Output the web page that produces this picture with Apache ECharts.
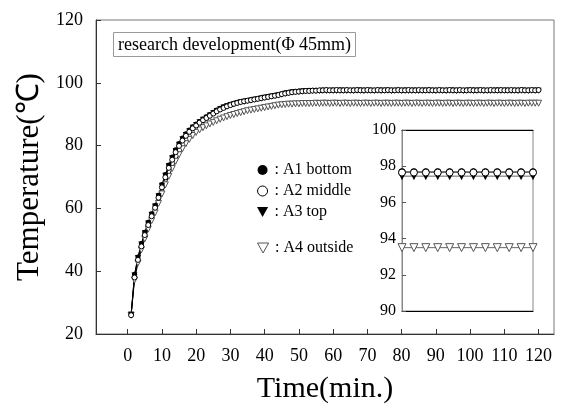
<!DOCTYPE html>
<html>
<head>
<meta charset="utf-8">
<script src="https://cdn.jsdelivr.net/npm/echarts@6/dist/echarts.min.js"></script>
<style>
  html, body { margin: 0; padding: 0; background: #fff; }
  #chart { width: 563px; height: 410px; }
</style>
</head>
<body>
<div id="chart"></div>
<script>
const minutes = [
  1, 2, 3, 4, 5, 6, 7, 8, 9, 10, 11, 12, 13, 14, 15, 16, 17, 18, 19, 20,
  21, 22, 23, 24, 25, 26, 27, 28, 29, 30, 31, 32, 33, 34, 35, 36, 37, 38, 39, 40,
  41, 42, 43, 44, 45, 46, 47, 48, 49, 50, 51, 52, 53, 54, 55, 56, 57, 58, 59, 60,
  61, 62, 63, 64, 65, 66, 67, 68, 69, 70, 71, 72, 73, 74, 75, 76, 77, 78, 79, 80,
  81, 82, 83, 84, 85, 86, 87, 88, 89, 90, 91, 92, 93, 94, 95, 96, 97, 98, 99, 100,
  101, 102, 103, 104, 105, 106, 107, 108, 109, 110, 111, 112, 113, 114, 115, 116, 117, 118, 119, 120
];

// A1 bottom
const a1Bottom = [
  26.2, 39.0, 44.5, 48.8, 52.4, 55.6, 58.3, 60.9, 64.2, 67.6,
  70.8, 73.8, 76.4, 78.7, 80.7, 82.4, 83.8, 85.0, 86.0, 86.9,
  87.7, 88.5, 89.2, 89.9, 90.6, 91.3, 91.9, 92.4, 92.8, 93.2,
  93.5, 93.8, 94.0, 94.2, 94.4, 94.6, 94.8, 95.0, 95.2, 95.4,
  95.6, 95.8, 96.0, 96.3, 96.5, 96.8, 97.0, 97.2, 97.3, 97.4,
  97.5, 97.5, 97.6, 97.6, 97.6, 97.6, 97.7, 97.7, 97.6, 97.7,
  97.7, 97.8, 97.7, 97.7, 97.6, 97.7, 97.7, 97.8, 97.7, 97.7,
  97.7, 97.6, 97.7, 97.8, 97.7, 97.7, 97.7, 97.6, 97.7, 97.7,
  97.8, 97.7, 97.7, 97.7, 97.6, 97.7, 97.7, 97.8, 97.7, 97.7,
  97.7, 97.6, 97.7, 97.7, 97.8, 97.7, 97.7, 97.6, 97.7, 97.7,
  97.8, 97.7, 97.7, 97.7, 97.6, 97.7, 97.7, 97.8, 97.7, 97.7,
  97.7, 97.6, 97.7, 97.7, 97.8, 97.7, 97.7, 97.7, 97.7, 97.7
];

// A2 middle
const a2Middle = [
  26.0, 38.0, 43.6, 47.9, 51.5, 54.7, 57.5, 60.2, 63.4, 66.7,
  69.9, 72.9, 75.5, 77.9, 79.9, 81.6, 83.1, 84.4, 85.5, 86.4,
  87.3, 88.1, 88.8, 89.5, 90.2, 90.9, 91.5, 92.0, 92.5, 92.9,
  93.3, 93.6, 93.9, 94.1, 94.3, 94.5, 94.7, 94.9, 95.1, 95.3,
  95.5, 95.7, 95.9, 96.1, 96.4, 96.6, 96.8, 97.0, 97.1, 97.2,
  97.3, 97.4, 97.4, 97.5, 97.5, 97.6, 97.6, 97.7, 97.6, 97.6,
  97.7, 97.6, 97.6, 97.7, 97.6, 97.6, 97.7, 97.6, 97.6, 97.7,
  97.6, 97.6, 97.7, 97.6, 97.6, 97.7, 97.6, 97.6, 97.7, 97.6,
  97.6, 97.7, 97.6, 97.6, 97.7, 97.6, 97.6, 97.7, 97.6, 97.6,
  97.7, 97.6, 97.6, 97.7, 97.6, 97.6, 97.7, 97.6, 97.6, 97.7,
  97.6, 97.6, 97.7, 97.6, 97.6, 97.7, 97.6, 97.6, 97.7, 97.6,
  97.6, 97.7, 97.6, 97.6, 97.7, 97.6, 97.6, 97.7, 97.6, 97.7
];

// A3 top
const a3Top = [
  26.1, 38.6, 44.2, 48.5, 52.1, 55.2, 58.0, 60.6, 63.9, 67.2,
  70.4, 73.4, 76.0, 78.3, 80.3, 82.0, 83.4, 84.6, 85.7, 86.6,
  87.4, 88.2, 88.9, 89.6, 90.3, 91.0, 91.6, 92.1, 92.5, 92.9,
  93.2, 93.5, 93.8, 94.0, 94.2, 94.4, 94.6, 94.8, 95.0, 95.2,
  95.4, 95.6, 95.8, 96.0, 96.2, 96.5, 96.7, 96.9, 97.0, 97.1,
  97.2, 97.3, 97.3, 97.4, 97.4, 97.4, 97.5, 97.4, 97.5, 97.5,
  97.4, 97.5, 97.5, 97.4, 97.5, 97.4, 97.5, 97.5, 97.4, 97.5,
  97.5, 97.4, 97.5, 97.4, 97.5, 97.5, 97.4, 97.5, 97.5, 97.4,
  97.5, 97.4, 97.5, 97.5, 97.4, 97.5, 97.5, 97.4, 97.5, 97.4,
  97.5, 97.5, 97.4, 97.5, 97.5, 97.4, 97.5, 97.4, 97.5, 97.5,
  97.4, 97.5, 97.5, 97.4, 97.5, 97.4, 97.5, 97.5, 97.4, 97.5,
  97.5, 97.4, 97.5, 97.4, 97.5, 97.5, 97.4, 97.5, 97.5, 97.5
];

// A4 outside
const a4Outside = [
  26.0, 37.2, 42.6, 46.8, 50.3, 53.4, 56.1, 58.6, 61.6, 64.6,
  67.5, 70.2, 72.7, 75.0, 77.1, 79.0, 80.6, 82.0, 83.2, 84.2,
  85.0, 85.7, 86.3, 86.9, 87.4, 87.9, 88.4, 88.8, 89.2, 89.6,
  89.9, 90.2, 90.5, 90.8, 91.1, 91.3, 91.5, 91.7, 91.9, 92.1,
  92.3, 92.5, 92.7, 92.9, 93.0, 93.1, 93.2, 93.2, 93.3, 93.3,
  93.4, 93.4, 93.4, 93.4, 93.5, 93.4, 93.5, 93.5, 93.4, 93.5,
  93.5, 93.4, 93.5, 93.5, 93.4, 93.5, 93.5, 93.4, 93.5, 93.5,
  93.4, 93.5, 93.5, 93.4, 93.5, 93.5, 93.4, 93.5, 93.5, 93.4,
  93.5, 93.5, 93.4, 93.5, 93.5, 93.4, 93.5, 93.5, 93.4, 93.5,
  93.5, 93.4, 93.5, 93.5, 93.4, 93.5, 93.5, 93.4, 93.5, 93.5,
  93.4, 93.5, 93.5, 93.4, 93.5, 93.5, 93.4, 93.5, 93.5, 93.4,
  93.5, 93.5, 93.4, 93.5, 93.5, 93.4, 93.5, 93.5, 93.5, 93.5
];

const timeTicks = [0, 10, 20, 30, 40, 50, 60, 70, 80, 90, 100, 110, 120];

// inset (zoom of last minutes)
const insetMinutes = [109, 110, 111, 112, 113, 114, 115, 116, 117, 118, 119, 120];
const insetA1 = [97.7, 97.7, 97.7, 97.7, 97.7, 97.7, 97.7, 97.7, 97.7, 97.7, 97.7, 97.7];
const insetA2 = [97.65, 97.65, 97.65, 97.65, 97.65, 97.65, 97.65, 97.65, 97.65, 97.65, 97.65, 97.65];
const insetA3 = [97.45, 97.45, 97.45, 97.45, 97.45, 97.45, 97.45, 97.45, 97.45, 97.45, 97.45, 97.45];
const insetA4 = [93.5, 93.5, 93.5, 93.5, 93.5, 93.5, 93.5, 93.5, 93.5, 93.5, 93.5, 93.5];

const serif = "Liberation Serif";
const downTri = "path://M0,0L10,0L5,9Z";

const pair = (xs, ys) => xs.map((x, i) => [x, ys[i]]);

const styles = {
  "A1 bottom": { symbol: "circle", item: { color: "#000" } },
  "A2 middle": { symbol: "circle", item: { color: "#fff", borderColor: "#000", borderWidth: 1 } },
  "A3 top": { symbol: downTri, item: { color: "#000" } },
  "A4 outside": { symbol: downTri, item: { color: "#fff", borderColor: "#555", borderWidth: 1 } },
};

const mainData = {
  "A1 bottom": a1Bottom,
  "A2 middle": a2Middle,
  "A3 top": a3Top,
  "A4 outside": a4Outside,
};
const insetData = {
  "A1 bottom": insetA1,
  "A2 middle": insetA2,
  "A3 top": insetA3,
  "A4 outside": insetA4,
};

const drawOrder = ["A4 outside", "A3 top", "A1 bottom", "A2 middle"];

const series = [];
drawOrder.forEach((name) => {
  const st = styles[name];
  series.push({
    name,
    type: "line",
    xAxisIndex: 0,
    yAxisIndex: 0,
    data: pair(minutes, mainData[name]),
    symbol: st.symbol,
    symbolSize: name.startsWith("A3") || name.startsWith("A4") ? [6, 6] : 5,
    lineStyle: { color: "#000", width: 1 },
    itemStyle: st.item,
    animation: false,
    z: 3,
  });
});
drawOrder.forEach((name) => {
  const st = styles[name];
  series.push({
    name,
    type: "line",
    xAxisIndex: 1,
    yAxisIndex: 1,
    data: pair(insetMinutes, insetData[name]),
    symbol: st.symbol,
    symbolSize: name.startsWith("A3") || name.startsWith("A4") ? [8, 8] : 7,
    lineStyle: { color: "#666", width: 1 },
    itemStyle: st.item,
    animation: false,
    z: 6,
  });
});

const legendItem = (name) => ({
  name,
  icon: styles[name].symbol,
  itemStyle: styles[name].item,
});

const chart = echarts.init(document.getElementById("chart"));
chart.setOption({
  backgroundColor: "#fff",
  animation: false,
  title: {
    text: "research development(Φ 45mm)",
    left: 113,
    top: 32,
    padding: [4, 5, 3, 5],
    borderColor: "#999",
    borderWidth: 1,
    textStyle: { fontFamily: serif, fontSize: 18, fontWeight: "normal", color: "#000" },
  },
  legend: [
    {
      data: [legendItem("A1 bottom"), legendItem("A2 middle"), legendItem("A3 top")],
      orient: "vertical",
      left: 252,
      top: 157,
      itemGap: 5,
      itemWidth: 14,
      itemHeight: 10,
      formatter: (n) => ": " + n,
      textStyle: { fontFamily: serif, fontSize: 16, color: "#000" },
      selectedMode: false,
    },
    {
      data: [legendItem("A4 outside")],
      orient: "vertical",
      left: 252,
      top: 235,
      itemWidth: 14,
      itemHeight: 10,
      formatter: (n) => ": " + n,
      textStyle: { fontFamily: serif, fontSize: 16, color: "#000" },
      selectedMode: false,
    },
  ],
  grid: [
    {
      left: 96, right: 9, top: 20, bottom: 76,
      show: true, borderColor: "#777", borderWidth: 1,
      outerBoundsMode: "none",
    },
    {
      left: 402, right: 30, top: 130, bottom: 99,
      show: true, backgroundColor: "#fff", borderColor: "#888", borderWidth: 1,
      outerBoundsMode: "none", z: 5,
    },
  ],
  xAxis: [
    {
      gridIndex: 0,
      type: "value",
      min: -9.25,
      max: 124.5,
      name: "Time(min.)",
      nameLocation: "middle",
      nameGap: 40,
      nameTextStyle: { fontFamily: serif, fontSize: 30, color: "#000" },
      splitLine: { show: false },
      axisLine: { onZero: false, lineStyle: { color: "#333", width: 1 } },
      axisTick: { inside: true, length: 5, customValues: timeTicks, lineStyle: { color: "#333" } },
      axisLabel: {
        customValues: timeTicks,
        margin: 13,
        fontFamily: serif, fontSize: 18, color: "#000",
      },
    },
    {
      gridIndex: 1,
      type: "value",
      min: 109,
      max: 120,
      axisLine: { show: true, onZero: false, lineStyle: { color: "#000" } },
      axisTick: { show: false },
      axisLabel: { show: false },
      splitLine: { show: false },
      z: 5,
    },
    {
      gridIndex: 1,
      type: "value",
      position: "top",
      min: 109,
      max: 120,
      axisLine: { show: true, onZero: false, lineStyle: { color: "#000" } },
      axisTick: { show: false },
      axisLabel: { show: false },
      splitLine: { show: false },
      z: 5,
    },
  ],
  yAxis: [
    {
      gridIndex: 0,
      type: "value",
      min: 20,
      max: 120,
      interval: 20,
      name: "Temperature(℃)",
      nameLocation: "middle",
      nameGap: 46,
      nameTextStyle: { fontFamily: serif, fontSize: 31, color: "#000" },
      splitLine: { show: false },
      axisLine: { show: true, onZero: false, lineStyle: { color: "#333", width: 1 } },
      axisTick: { inside: true, length: 5, lineStyle: { color: "#333" } },
      axisLabel: { margin: 13, fontFamily: serif, fontSize: 18, color: "#000" },
    },
    {
      gridIndex: 1,
      type: "value",
      min: 90,
      max: 100,
      interval: 2,
      splitLine: { show: false },
      axisLine: { show: true, onZero: false, lineStyle: { color: "#888" } },
      axisTick: { inside: true, length: 4, lineStyle: { color: "#555" } },
      axisLabel: { margin: 6, fontFamily: serif, fontSize: 16, color: "#000" },
      z: 5,
    },
  ],
  series,
});
</script>
</body>
</html>
